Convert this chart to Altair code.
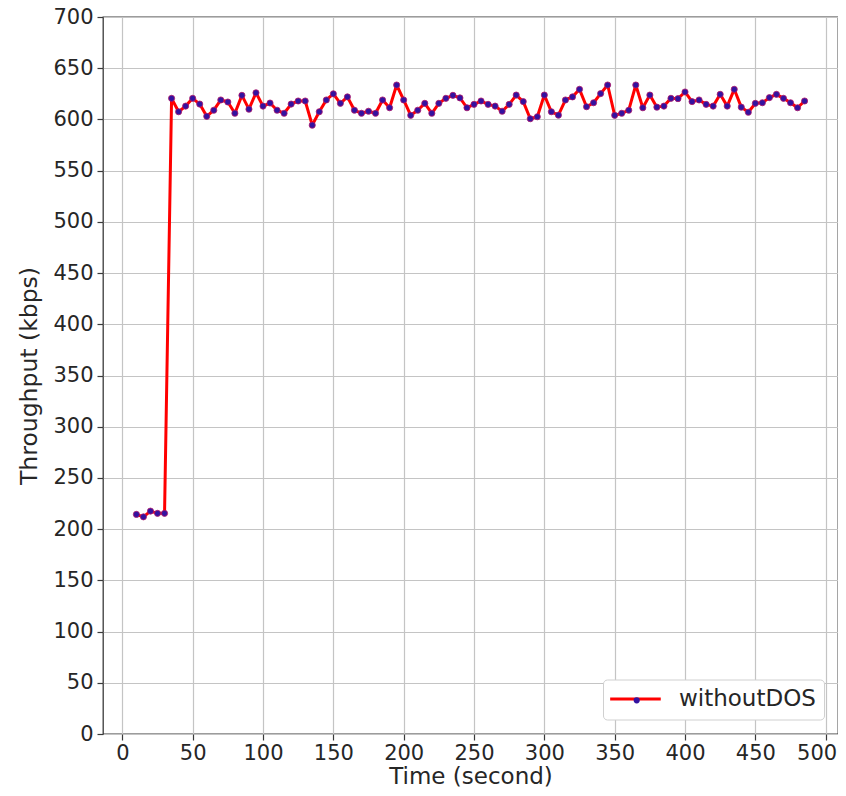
import altair as alt
import pandas as pd

times = list(range(10, 490, 5))
throughput = [
    214.4, 212, 217.6, 215.4, 215.4,
    620.6, 607.5, 613, 620.6, 615, 603, 609, 619, 617, 606, 623.5, 610, 626, 613, 616, 609, 606,
    615, 618, 618, 594.4, 607.5, 619, 625, 615.7, 622, 609, 606, 608, 606, 619, 611.4, 633.6, 619,
    604, 609, 615.7, 606, 615.7, 620.6, 623.5, 621, 611.4,
    614.7, 618, 614.7, 613, 608, 614.7, 623.8, 617.4, 600.7, 602.6, 623.8, 607.5, 604.2, 619, 622,
    629.4, 612.4, 616.3, 625.2, 633.6, 604, 606, 609, 633.6, 611.4,
    623.8, 612, 613, 620.6, 620.3, 626.8, 617.4, 619, 614.7, 613, 624.5, 613, 629.4, 612, 607,
    615.7, 616.3, 621.3, 624.5, 620.6, 616.3, 611.4, 618,
]
series_name = "withoutDOS"
x_ticks = list(range(0, 501, 50))
y_ticks = list(range(0, 701, 50))

df = pd.DataFrame({"time": times, "tp": throughput, "series": series_name, "series2": series_name})

FONT = "DejaVu Sans"

x_enc = alt.X("time:Q",
              scale=alt.Scale(domain=[-13.75, 508.75], nice=False, zero=False),
              axis=alt.Axis(values=x_ticks, title="Time (second)", titleFontSize=23,
                            titlePadding=2, labelPadding=2,
                            labelFlush=15, labelFlushOffset=11))
y_enc = alt.Y("tp:Q",
              scale=alt.Scale(domain=[0, 700], nice=False),
              axis=alt.Axis(values=y_ticks, title="Throughput (kbps)", titleFontSize=23.5,
                            titlePadding=11, labelPadding=4))

line = alt.Chart(df).mark_line(strokeWidth=3, strokeJoin="round").encode(
    x=x_enc, y=y_enc,
    stroke=alt.Stroke("series:N", scale=alt.Scale(range=["#ff0000"]),
                      legend=alt.Legend(title=None, orient="none", legendX=500, legendY=662.5,
                                        symbolType="M-1.95,0H6.05", symbolStrokeWidth=3, symbolSize=160,
                                        symbolFillColor="transparent",
                                        labelFontSize=23, labelFont=FONT, labelColor="#262626",
                                        labelOffset=45, padding=8,
                                        strokeColor="#d0d0d0", fillColor="white", cornerRadius=4)),
)

points = alt.Chart(df).mark_point(filled=True, size=38, opacity=1, strokeWidth=0.8).encode(
    x=x_enc, y=y_enc,
    fill=alt.Fill("series2:N", scale=alt.Scale(range=["#3312a0"]),
                  legend=alt.Legend(title=None, orient="none", legendX=528.7, legendY=678.3,
                                    symbolType="circle", symbolSize=38, labelExpr="''",
                                    padding=0, symbolStrokeWidth=0)),
    stroke=alt.value("#b0186a"),
)

chart = alt.layer(line, points).properties(
    width=735, height=717,
    padding={"left": 95, "top": 9, "right": 0, "bottom": 54},
    autosize=alt.AutoSizeParams(type="none"),
).configure_view(
    stroke="#3a3a3a", strokeWidth=1.3
).configure_axis(
    labelFont=FONT, titleFont=FONT, labelFontSize=21,
    labelColor="#262626", titleColor="#262626", titleFontWeight="normal",
    grid=True, gridColor="#c4c4c4", gridWidth=1.2,
    domain=False, tickColor="#3a3a3a", tickSize=6, tickWidth=1.2,
)

chart.save("out.html", embed_options={"renderer": "svg", "actions": False})
